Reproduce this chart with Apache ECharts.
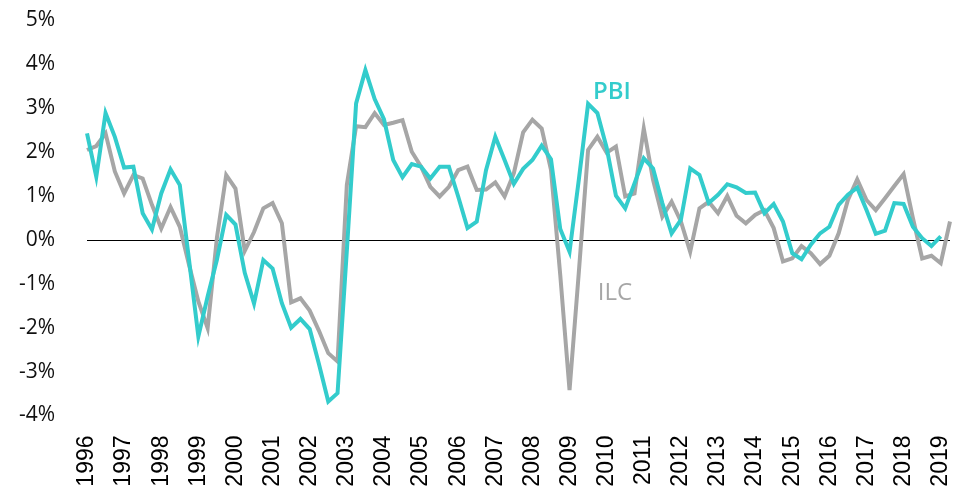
<!DOCTYPE html>
<html>
<head>
<meta charset="utf-8">
<script src="https://cdn.jsdelivr.net/npm/echarts@6/dist/echarts.min.js"></script>
<style>
html,body{margin:0;padding:0;background:#fff;}
#chart{width:966px;height:495px;}
</style>
</head>
<body>
<div id="chart"></div>
<script>
// Years shown as tick labels (first quarter of each year)
var years = ['1996','1997','1998','1999','2000','2001','2002','2003','2004','2005','2006','2007',
             '2008','2009','2010','2011','2012','2013','2014','2015','2016','2017','2018','2019'];
var quarters = ['T1','T2','T3','T4'];

// PBI, quarterly growth (%) 1996T1 .. 2019T1
var pbi = [2.43,1.44,2.89,2.35, 1.65,1.67,0.61,0.24, 1.06,1.61,1.25,-0.46, -2.20,-1.29,-0.45,0.57,
           0.35,-0.75,-1.45,-0.46, -0.65,-1.44,-2.00,-1.80, -2.03,-2.83,-3.68,-3.49, -0.25,3.11,3.87,3.21,
           2.75,1.82,1.43,1.73, 1.67,1.40,1.67,1.67, 0.99,0.27,0.42,1.59, 2.35,1.82,1.28,1.62,
           1.82,2.15,1.84,0.25, -0.27,1.37,3.10,2.89, 2.10,1.01,0.72,1.29, 1.86,1.63,0.84,0.15,
           0.46,1.63,1.48,0.84, 1.03,1.27,1.20,1.07, 1.08,0.61,0.82,0.42, -0.30,-0.44,-0.11,0.15,
           0.30,0.80,1.03,1.19, 0.68,0.14,0.21,0.84, 0.82,0.30,0.04,-0.14, 0.08];

// ILC, quarterly growth (%) 1996T1 .. 2019T2
var ilc = [2.05,2.14,2.43,1.56, 1.06,1.48,1.40,0.80, 0.26,0.75,0.30,-0.57, -1.40,-2.01,0.05,1.48,
           1.17,-0.25,0.18,0.72, 0.84,0.38,-1.42,-1.33, -1.61,-2.07,-2.58,-2.77, 1.25,2.59,2.57,2.89,
           2.62,2.67,2.73,2.01, 1.67,1.21,0.99,1.21, 1.59,1.67,1.14,1.15, 1.31,0.99,1.52,2.45,
           2.74,2.54,1.60,-0.80, -3.42,-0.74,2.05,2.35, 1.99,2.13,0.99,1.06, 2.54,1.37,0.53,0.87,
           0.42,-0.27,0.72,0.87, 0.61,1.00,0.55,0.38, 0.57,0.68,0.27,-0.49, -0.42,-0.14,-0.30,-0.55,
           -0.36,0.15,0.91,1.38, 0.91,0.68,0.95,1.23, 1.50,0.50,-0.42,-0.36, -0.53,0.42];

// Series name labels placed on the chart (category index, value)
var pbiLabel = {text:'PBI', idx:57, val:3.37};
var ilcLabel = {text:'ILC', idx:57, val:-1.21};

var categories = [];
for (var y = 0; y < years.length; y++) {
  for (var q = 0; q < quarters.length; q++) {
    if (categories.length < ilc.length) categories.push(years[y] + quarters[q]);
  }
}

var chart = echarts.init(document.getElementById('chart'), null, {renderer:'canvas'});
chart.setOption({
  animation:false,
  backgroundColor:'#ffffff',
  grid:{left:87, right:16, top:20.5, bottom:79.5, containLabel:false},
  xAxis:{
    type:'category',
    data:categories,
    boundaryGap:false,
    axisLine:{show:false, onZero:false},
    axisTick:{show:false},
    splitLine:{show:false},
    axisLabel:{
      interval:3,
      rotate:90,
      margin:20,
      fontFamily:'Liberation Sans, Arial, sans-serif',
      fontSize:23,
      color:'#000',
      formatter:function(v){ return v.slice(0,4); }
    }
  },
  yAxis:{
    type:'value',
    min:-4, max:5, interval:1,
    axisLine:{show:false},
    axisTick:{show:false},
    splitLine:{show:false},
    axisLabel:{
      margin:32,
      fontFamily:'Open Sans, Noto Sans, sans-serif',
      fontSize:21,
      color:'#111',
      formatter:function(v){ return v + '%'; }
    }
  },
  series:[
    {
      name:'ILC', type:'line', data:ilc, symbol:'none', smooth:false, z:2,
      lineStyle:{color:'#A6A6A6', width:4, join:'miter'},
      itemStyle:{color:'#A6A6A6'},
      markLine:{
        silent:true, symbol:['none','none'],
        label:{show:false},
        lineStyle:{color:'#000', width:1.2, type:'solid'},
        data:[{yAxis:0}],
        z:1
      },
      markPoint:{
        silent:true, symbol:'circle', symbolSize:0,
        label:{show:true, position:'inside', formatter:ilcLabel.text, offset:[-1,0],
               fontFamily:'Open Sans, Noto Sans, sans-serif', fontSize:24, color:'#A6A6A6'},
        data:[{coord:[ilcLabel.idx, ilcLabel.val]}]
      }
    },
    {
      name:'PBI', type:'line', data:pbi, symbol:'none', smooth:false, z:3,
      lineStyle:{color:'#33CCCC', width:4, join:'miter'},
      itemStyle:{color:'#33CCCC'},
      markPoint:{
        silent:true, symbol:'circle', symbolSize:0,
        label:{show:true, position:'inside', formatter:pbiLabel.text, offset:[-4,0],
               fontFamily:'Open Sans, Noto Sans, sans-serif', fontSize:24, fontWeight:600, color:'#33CCCC'},
        data:[{coord:[pbiLabel.idx, pbiLabel.val]}]
      }
    }
  ]
});
</script>
</body>
</html>
